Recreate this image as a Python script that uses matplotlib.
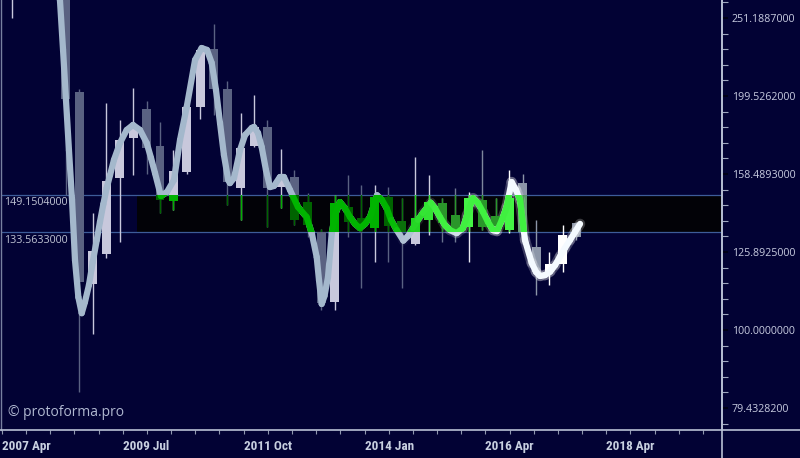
import numpy as np
import matplotlib
matplotlib.use('Agg')
import matplotlib.pyplot as plt
from matplotlib.patches import Rectangle
from matplotlib.collections import LineCollection
from matplotlib.colors import to_rgb
from matplotlib.lines import Line2D
from matplotlib.ticker import FixedLocator, NullFormatter
from matplotlib import font_manager

# ---------------- data ----------------
candle_idx = [-4] + list(range(0, 39))
opens = [280, 290, 201.9, 114.5, 125.2, 156.6, 176.2, 192.0, 172.2, 146.3, 159.4, 193.2, 229.3, 203.7,
         152.1, 172.2, 182.1, 152.6, 157.1, 145.9, 133.6, 108.6, 143.8, 139.2, 135.1, 148.1, 137.9,
         128.9, 138.4, 145.3, 140.5, 135.5, 146.8, 140.1, 134.3, 154.4, 127.8, 118.7, 121.7, 137.2]
highs = [320, 300, 203.5, 141.3, 195.4, 185.9, 204.3, 196.6, 184.8, 170.1, 194.0, 229.9, 246.8, 208.5,
         189.7, 200.1, 185.9, 170.4, 160.6, 149.8, 134.6, 149.0, 158.0, 153.5, 153.5, 152.6, 147.6,
         166.6, 158.0, 147.7, 152.1, 150.4, 170.1, 147.7, 160.6, 158.5, 138.4, 125.9, 136.3, 137.6]
lows = [251.2, 148.9, 83.3, 98.8, 123.7, 129.7, 158.0, 158.5, 141.3, 142.5, 158.5, 186.4, 188.6, 144.6,
        138.4, 171.7, 135.5, 143.3, 136.3, 131.6, 106.1, 106.1, 131.6, 113.2, 122.3, 122.3, 113.2,
        128.5, 132.4, 129.7, 129.7, 122.3, 134.3, 135.1, 133.2, 132.0, 110.9, 114.2, 118.7, 130.4]
closes = [300, 197.8, 115.2, 126.3, 155.2, 175.2, 181.6, 171.2, 146.8, 159.9, 193.2, 228.6, 203.7, 154.8,
          171.2, 182.1, 152.1, 157.1, 138.4, 136.5, 108.3, 145.5, 137.6, 136.0, 148.1, 136.0, 133.6,
          139.2, 145.9, 137.2, 134.3, 147.7, 135.5, 136.0, 147.7, 133.6, 118.7, 121.7, 132.4, 131.6]

line_idx = [-0.74, -0.45, -0.22, 0.00, 0.22, 0.45, 0.67, 0.92, 1.17, 1.41, 1.71, 1.99, 2.29, 2.53, 2.78,
            3.03, 3.28, 3.57, 4.02, 4.52, 4.99, 5.51, 6.01, 6.33, 6.63, 7.07, 7.52, 8.04, 8.49, 8.99,
            9.61, 10.10, 10.50, 10.85, 11.17, 11.47, 11.76, 12.08, 12.21, 12.51, 12.96, 13.33, 13.83,
            14.00, 14.30, 14.57, 14.89, 15.19, 15.49, 15.93, 16.23, 16.68, 17.27, 17.92, 18.30, 18.67,
            18.84, 19.04, 19.25, 19.51, 19.79, 20.03, 20.40, 20.77, 21.15, 21.52, 21.89, 22.27, 22.64,
            23.16, 23.53, 23.88, 24.20, 24.63, 25.12, 25.47, 25.84, 26.21, 26.58, 27.16, 27.48, 27.85,
            28.22, 28.60, 29.09, 29.56, 29.86, 30.31, 30.68, 31.05, 31.42, 31.80, 32.09, 32.46, 32.81,
            33.18, 33.51, 33.81, 34.18, 34.68, 35.00, 35.30, 35.67, 36.05, 36.42, 36.78, 37.16, 37.53,
            37.90, 38.28]
line_val = [298.1, 264.9, 228.6, 197.2, 170.1, 146.8, 122.9, 110.2, 105.1, 108.6, 114.2, 122.2, 130.4,
            137.6, 145.0, 152.1, 158.0, 165.2, 173.7, 180.5, 183.2, 180.5, 173.7, 166.2, 158.9, 148.5,
            150.3, 155.7, 175.2, 193.2, 221.9, 229.9, 228.6, 220.0, 203.1, 184.2, 167.7, 155.7, 154.3,
            156.6, 170.1, 177.8, 181.6, 182.1, 178.9, 171.7, 160.4, 152.5, 153.0, 157.1, 157.1, 151.2,
            143.8, 139.6, 133.1, 124.0, 115.9, 108.0, 110.6, 116.9, 133.1, 140.4, 145.9, 143.3, 139.6,
            136.8, 135.1, 136.8, 139.6, 148.9, 146.8, 143.3, 138.4, 134.3, 130.2, 132.0, 135.1, 138.4,
            141.3, 145.6, 143.3, 139.6, 136.3, 134.3, 133.1, 135.1, 140.4, 147.6, 145.5, 141.7, 137.6,
            134.3, 133.9, 138.4, 143.8, 154.8, 151.2, 146.8, 130.4, 121.9, 118.7, 117.3, 117.6, 118.8,
            121.1, 124.2, 127.4, 130.4, 133.5, 136.8]

band_hi = 149.1504
band_lo = 133.5633

y_tick_vals = [79.43282, 100.0, 125.8925, 158.4893, 199.5262, 251.1887]
y_tick_labels = ['79.4328200', '100.0000000', '125.8925000', '158.4893000', '199.5262000', '251.1887000']
x_tick_labels = ['2007 Apr', '2009 Jul', '2011 Oct', '2014 Jan', '2016 Apr', '2018 Apr']

# ---------------- style ----------------
BG = '#020234'
W, H = 800, 458
installed = {f.name for f in font_manager.fontManager.ttflist}
NARROW = [f for f in ['Liberation Sans Narrow', 'Roboto Condensed', 'Open Sans'] if f in installed] + ['DejaVu Sans']
SANS = ['Open Sans', 'DejaVu Sans']
LW = 4.5


def mix(c1, c2, t):
    a, b = to_rgb(c1), to_rgb(c2)
    return tuple((1 - t) * x + t * y for x, y in zip(a, b))


fig = plt.figure(figsize=(W / 100, H / 100), dpi=100, facecolor=BG)
ax = fig.add_axes([1 / W, 28 / H, 721 / W, 430 / H])
ax.set_facecolor(BG)
ax.set_yscale('log')
ax.set_xlim(-4.84, 48.85)
ax.set_ylim(74.45, 264.9)

band_x0 = 5.29
green_end = 34.4

# band
ax.add_patch(Rectangle((band_x0, band_lo), 60, band_hi - band_lo, facecolor='#020207',
                       edgecolor='none', zorder=1))
ax.axhline(band_hi, color='#3d5c99', lw=0.9, zorder=2)
ax.axhline(band_lo, color='#3d5c99', lw=0.9, zorder=2)

# candles
idx = np.array(candle_idx, float)
o = np.array(opens); h = np.array(highs); l = np.array(lows); c = np.array(closes)
bull = c >= o
t = np.clip((idx - 26) / 7.0, 0, 1)
cols = [mix('#c8c8dc', '#ffffff', ti) if b else mix('#5a6282', '#8c96a8', ti) for ti, b in zip(t, bull)]
ax.vlines(idx, l, h, colors=cols, lw=1.0, zorder=3)
ax.bar(idx, np.abs(c - o), bottom=np.minimum(o, c), width=0.67, color=cols, linewidth=0, zorder=3)

# smooth line
pts = np.column_stack([line_idx, line_val])
segs = np.stack([pts[:-1], pts[1:]], axis=1)
mid = (pts[:-1, 0] + pts[1:, 0]) / 2
tl = np.clip((mid - 24) / 9.0, 0, 1)
glow = LineCollection(segs, colors=[(1, 1, 1, 0.22 * x) for x in tl], linewidths=LW + 3,
                      capstyle='round', zorder=4)
ax.add_collection(glow)
lc = LineCollection(segs, colors=[mix('#a4b8cc', '#f4faff', x) for x in tl], linewidths=LW,
                    capstyle='round', joinstyle='round', zorder=4)
ax.add_collection(lc)

# green overlay inside the band
clip = Rectangle((band_x0, band_lo), green_end - band_x0, band_hi - band_lo, transform=ax.transData)
tg = np.clip((idx - 24) / 4.0, 0, 1)
gcols = []
for ti, b, xi in zip(tg, bull, idx):
    col = mix('#00b000', '#44f444', ti) if b else mix('#006400', '#2a962a', ti)
    alpha = 0.45 if xi >= 34 else 1.0
    gcols.append((*col, alpha))
vl = ax.vlines(idx, l, h, colors=gcols, lw=1.0, zorder=5)
vl.set_clip_path(clip)
bars = ax.bar(idx, np.abs(c - o), bottom=np.minimum(o, c), width=0.67, color=gcols, linewidth=0, zorder=5)
for p in bars:
    p.set_clip_path(clip)
tgl = np.clip((mid - 24) / 3.5, 0, 1)
glc = LineCollection(segs, colors=[mix('#00b400', '#40f040', x) for x in tgl], linewidths=LW,
                     capstyle='round', zorder=6)
ax.add_collection(glc)
glc.set_clip_path(clip)

# axes styling
for s in ['top', 'bottom']:
    ax.spines[s].set_visible(False)
ax.spines['left'].set_color('#7880a0')
ax.spines['left'].set_linewidth(1.0)
ax.spines['right'].set_color('#b8c0d4')
ax.spines['right'].set_linewidth(1.2)

ax.yaxis.tick_right()
ax.set_yticks(y_tick_vals)
ax.set_yticklabels(y_tick_labels)
ax.yaxis.set_minor_locator(FixedLocator(10 ** (np.arange(90, 122) * 0.02)))
ax.yaxis.set_minor_formatter(NullFormatter())
ax.tick_params(axis='y', which='major', length=4.5, width=1.2, color='#000010', pad=2.5,
               labelsize=7.7, labelcolor='#c8cce0', left=False, right=True)
ax.tick_params(axis='y', which='minor', length=4, width=0.8, color='#a0a8c0', left=False, right=True)
for tl_ in ax.get_yticklabels():
    tl_.set_family(SANS)

x_pos = [-4.77 + 9 * j for j in range(len(x_tick_labels))]
ax.set_xticks(x_pos)
ax.set_xticklabels(x_tick_labels)
ax.xaxis.set_minor_locator(FixedLocator([-4.77 + 1.8 * k for k in range(0, 30)]))
ax.tick_params(axis='x', which='both', length=3, width=0.8, color='#9098b0', pad=4,
               labelsize=9.5, labelcolor='#c8d0e0')
for tl_ in ax.get_xticklabels():
    tl_.set_ha('left')
    tl_.set_family(NARROW)
    tl_.set_fontweight('bold')
    if NARROW[0] == 'Open Sans':
        tl_.set_fontstretch('condensed')
        tl_.set_fontsize(8.5)

# figure-wide axis lines
fig.add_artist(Line2D([0, 1], [28 / H, 28 / H], color='#b8c0d4', lw=1.2, transform=fig.transFigure))
fig.add_artist(Line2D([722 / W, 722 / W], [0, 1], color='#b8c0d4', lw=1.2, transform=fig.transFigure))

# band labels
for v in (band_hi, band_lo):
    ax.annotate(f'{v:.7f}', xy=(0, v), xycoords=('axes fraction', 'data'), xytext=(2, -2),
                textcoords='offset points', va='top', ha='left', fontsize=7.7, color='#c0c4d4',
                family=SANS, zorder=7)

# watermark
fig.text(8 / W, 1 - 413 / H, '© protoforma.pro', fontsize=10, color='#b0b8d0', va='center',
         ha='left', family=SANS)

fig.savefig('out.png', dpi=100, facecolor=BG)
